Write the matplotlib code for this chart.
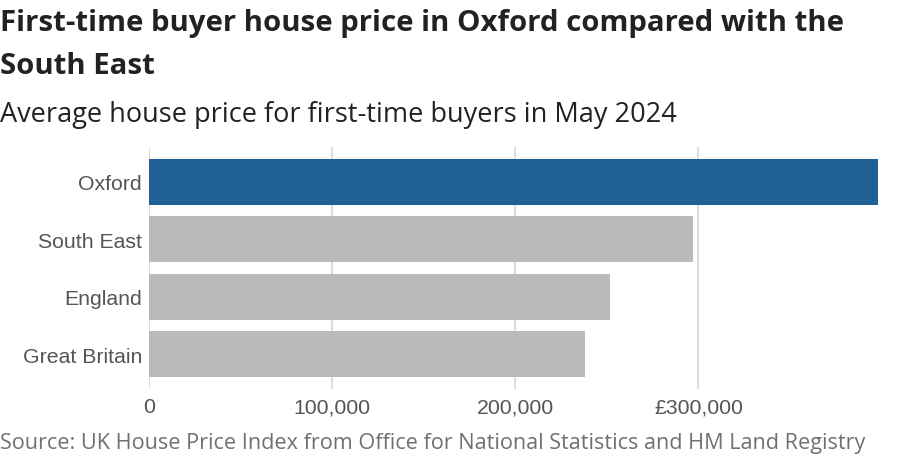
import matplotlib.pyplot as plt
from matplotlib.ticker import FixedLocator

# data
areas = ["Oxford", "South East", "England", "Great Britain"]
prices = [398000, 297000, 251500, 238000]
bar_colors = ["#206095", "#bababa", "#bababa", "#bababa"]
tick_vals = [0, 100000, 200000, 300000]
tick_labels = ["0", "100,000", "200,000", "£300,000"]

fig = plt.figure(figsize=(9.03, 4.60), dpi=100)
ax = fig.add_axes([149 / 903, 1 - 390 / 460, 729 / 903, 242 / 460])

ypos = list(range(len(areas)))
ax.barh(ypos, prices, height=0.8, color=bar_colors, zorder=2)

ax.set_xlim(0, 398000)
ax.set_ylim(3.6, -0.6)
ax.xaxis.set_major_locator(FixedLocator(tick_vals))
ax.set_xticklabels(tick_labels)
ax.set_yticks(ypos)
ax.set_yticklabels(areas)

for s in ax.spines.values():
    s.set_visible(False)
ax.grid(axis="x", color="#dddddd", linewidth=1.5, zorder=0)
ax.tick_params(axis="both", length=0, labelsize=15.3, labelcolor="#555555")
ax.tick_params(axis="x", pad=6)
ax.tick_params(axis="y", pad=5)
for lbl in ax.get_xticklabels() + ax.get_yticklabels():
    lbl.set_family("Liberation Sans")

fig.text(0.0, 1 - 24 / 460, "First-time buyer house price in Oxford compared with the",
         fontsize=21.2, fontweight="bold", family="Open Sans", color="#222222", va="center")
fig.text(0.0, 1 - 67 / 460, "South East",
         fontsize=21.2, fontweight="bold", family="Open Sans", color="#222222", va="center")
fig.text(0.0, 1 - 115 / 460, "Average house price for first-time buyers in May 2024",
         fontsize=19.5, family="Open Sans", color="#222222", va="center")
fig.text(0.0, 1 - 444 / 460,
         "Source: UK House Price Index from Office for National Statistics and HM Land Registry",
         fontsize=15.6, family="Open Sans", color="#707070", va="center")

fig.savefig("out.png", dpi=100)
